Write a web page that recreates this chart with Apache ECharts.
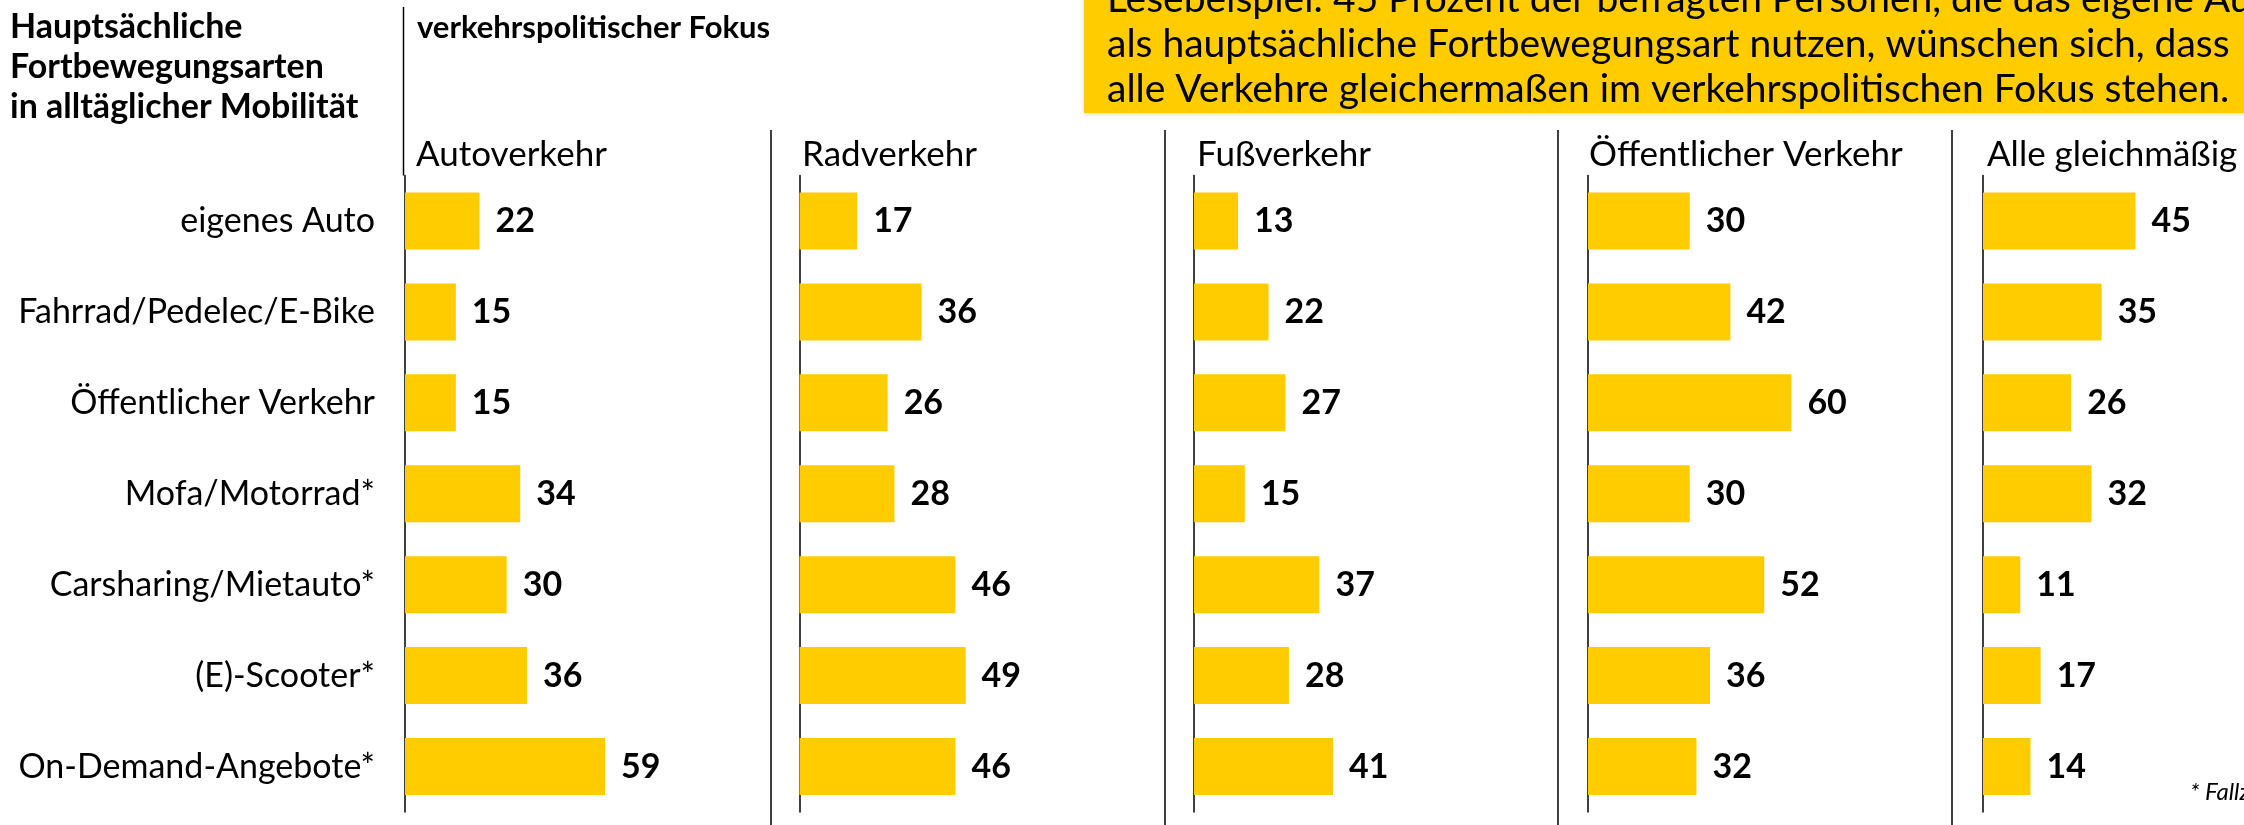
<!DOCTYPE html>
<html>
<head>
<meta charset="utf-8">
<script src="https://cdn.jsdelivr.net/npm/echarts@6/dist/echarts.min.js"></script>
<style>
html,body{margin:0;padding:0;background:#fff;}
#chart{width:2244px;height:825px;}
</style>
</head>
<body>
<div id="chart"></div>
<script>
const categories = ['eigenes Auto','Fahrrad/Pedelec/E-Bike','Öffentlicher Verkehr','Mofa/Motorrad*','Carsharing/Mietauto*','(E)-Scooter*','On-Demand-Angebote*'];
const panelTitles = ['Autoverkehr','Radverkehr','Fußverkehr','Öffentlicher Verkehr','Alle gleichmäßig'];
const autoverkehr = [22,15,15,34,30,36,59];
const radverkehr = [17,36,26,28,46,49,46];
const fussverkehr = [13,22,27,15,37,28,41];
const oeffentlich = [30,42,60,30,52,36,32];
const alleGleich = [45,35,26,32,11,17,14];
const seriesData = [autoverkehr, radverkehr, fussverkehr, oeffentlich, alleGleich];
const rowTitle = ['Hauptsächliche','Fortbewegungsarten','in alltäglicher Mobilität'];
const colTitle = 'verkehrspolitischer Fokus';
const boxLines = ['Lesebeispiel: 45 Prozent der befragten Personen, die das eigene Auto','als hauptsächliche Fortbewegungsart nutzen, wünschen sich, dass','alle Verkehre gleichermaßen im verkehrspolitischen Fokus stehen.'];
const footnote = '* Fallzahlen gering';

const FONT = 'Lato, "Open Sans", sans-serif';
const YELLOW = '#FFCC00';
const axisX = [405, 799.5, 1194, 1588, 1983];
const sepX = [771, 1165, 1558, 1952];
const gridTop = 175.5, gridBottom = 13;
const xMax = 70, pxPerUnit = 3.39;

const grids = [], xAxes = [], yAxes = [], series = [];
seriesData.forEach((d, i) => {
  grids.push({left: axisX[i], top: gridTop, bottom: gridBottom, width: xMax * pxPerUnit, containLabel: false});
  xAxes.push({type: 'value', gridIndex: i, min: 0, max: xMax, show: false});
  yAxes.push({
    type: 'category', gridIndex: i, data: categories, inverse: true,
    axisLine: {show: true, lineStyle: {color: '#000', width: 1.5}},
    axisTick: {show: false},
    splitLine: {show: false},
    axisLabel: {show: i === 0, fontFamily: FONT, fontSize: 34, color: '#000', margin: 30}
  });
  series.push({
    type: 'bar', xAxisIndex: i, yAxisIndex: i, data: d, barWidth: 57,
    itemStyle: {color: YELLOW},
    label: {show: true, position: 'right', distance: 16, fontFamily: FONT, fontWeight: 'bold', fontSize: 34, color: '#000'},
    animation: false
  });
});

const graphics = [];
graphics.push({type: 'rect', shape: {x: 1084, y: -20, width: 1200, height: 133}, style: {fill: YELLOW, shadowBlur: 4, shadowColor: 'rgba(200,120,0,0.35)', shadowOffsetY: 1}, z: 1});
const boxY = [-1, 44.5, 89.5];
boxLines.forEach((t, k) => {
  graphics.push({type: 'text', x: 1107, y: boxY[k], style: {text: t, font: '39px ' + FONT, fill: '#000', textVerticalAlign: 'middle', textAlign: 'left'}, z: 2});
});
const rtY = [27, 67, 107];
rowTitle.forEach((t, k) => {
  graphics.push({type: 'text', x: 10, y: rtY[k], style: {text: t, font: 'bold 34px ' + FONT, fill: '#000', textVerticalAlign: 'middle'}});
});
graphics.push({type: 'text', x: 417, y: 28, style: {text: colTitle, font: 'bold 31px ' + FONT, fill: '#000', textVerticalAlign: 'middle'}});
const ptX = [416, 802, 1197, 1589, 1987];
panelTitles.forEach((t, k) => {
  graphics.push({type: 'text', x: ptX[k], y: 155, style: {text: t, font: '35px ' + FONT, fill: '#000', textVerticalAlign: 'middle'}});
});
graphics.push({type: 'line', shape: {x1: 403.5, y1: 7, x2: 403.5, y2: gridTop}, style: {stroke: '#000', lineWidth: 1.5}});
sepX.forEach(x => {
  graphics.push({type: 'line', shape: {x1: x, y1: 130, x2: x, y2: 825}, style: {stroke: '#000', lineWidth: 1.5}});
});
graphics.push({type: 'text', x: 2190, y: 792, style: {text: footnote, font: 'italic 24px ' + FONT, fill: '#000', textVerticalAlign: 'middle'}});

const chart = echarts.init(document.getElementById('chart'), null, {renderer: 'canvas'});
chart.setOption({
  animation: false,
  backgroundColor: '#fff',
  grid: grids, xAxis: xAxes, yAxis: yAxes, series: series,
  graphic: graphics
});
</script>
</body>
</html>
